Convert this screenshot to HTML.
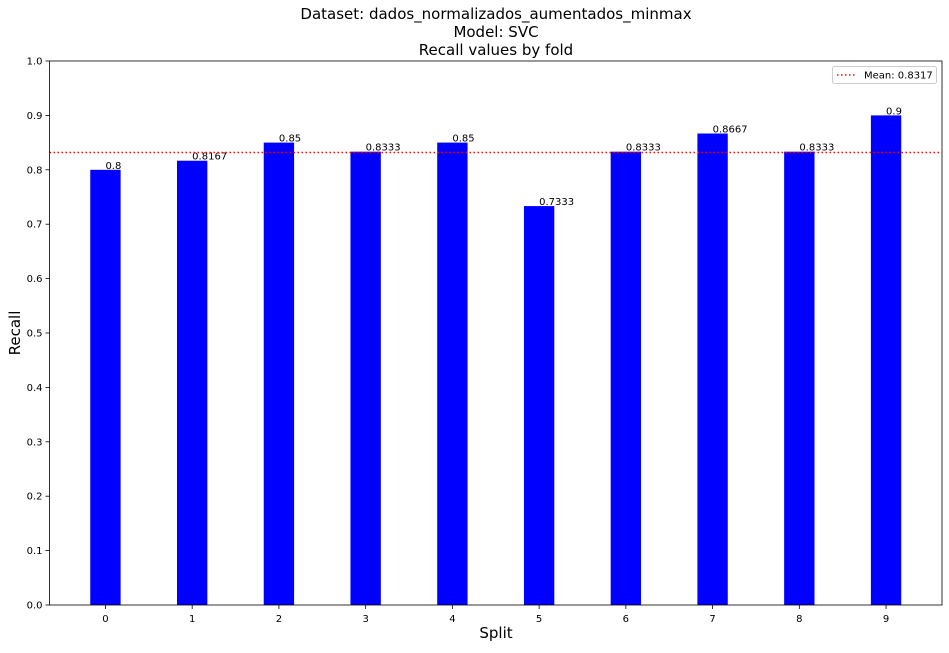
<!DOCTYPE html>
<html><head><meta charset="utf-8"><style>
body{margin:0;background:#fff;font-family:"Liberation Sans","DejaVu Sans",sans-serif;}
svg text{font-family:"DejaVu Sans","Liberation Sans",sans-serif;}
</style></head><body>
<svg id="chart" width="949" height="648" xmlns="http://www.w3.org/2000/svg">
<text x="496" y="19" font-size="15" text-anchor="middle">Dataset: dados_normalizados_aumentados_minmax</text>
<text x="496" y="37" font-size="15" text-anchor="middle">Model: SVC</text>
<text x="496" y="55" font-size="15" text-anchor="middle">Recall values by fold</text>
<text x="496" y="638" font-size="15" text-anchor="middle">Split</text>
<text transform="translate(20,333) rotate(-90)" font-size="15" text-anchor="middle">Recall</text>
<g id="plot"></g>
</svg>
<script>
const categories=[0,1,2,3,4,5,6,7,8,9];
const values=[0.8,0.8167,0.85,0.8333,0.85,0.7333,0.8333,0.8667,0.8333,0.9];
const labels=["0.8","0.8167","0.85","0.8333","0.85","0.7333","0.8333","0.8667","0.8333","0.9"];
const yTicks=[0,0.1,0.2,0.3,0.4,0.5,0.6,0.7,0.8,0.9,1.0];
const meanValue=0.8317;
const L=49.5,R=942,T=61,B=605;
const xMin=-0.645,xMax=9.645;
const X=v=>L+(v-xMin)/(xMax-xMin)*(R-L);
const Y=v=>B-v*(B-T);
const NS="http://www.w3.org/2000/svg";
const g=document.getElementById('plot');
function mk(t,a){const e=document.createElementNS(NS,t);for(const k in a)e.setAttribute(k,a[k]);g.appendChild(e);return e;}
const bw=(X(0.35)-X(0));
categories.forEach((c,i)=>{
 const r=mk('rect',{x:X(c)-bw/2,y:Y(values[i]),width:bw,height:B-Y(values[i]),fill:'#0000ff'});
 
 
 const t=mk('text',{x:X(c),y:Y(values[i])-1,'font-size':10});
 t.textContent=labels[i];
 
 
 mk('line',{x1:X(c),x2:X(c),y1:B,y2:B+4,stroke:'#000','stroke-width':0.8});
 const tl=mk('text',{x:X(c),y:B+17,'font-size':10,'text-anchor':'middle'});
 tl.textContent=c;
 
 
});
yTicks.forEach(v=>{
 mk('line',{x1:L-4,x2:L,y1:Y(v),y2:Y(v),stroke:'#000','stroke-width':0.8});
 const t=mk('text',{x:L-7,y:Y(v)+3.5,'font-size':10,'text-anchor':'end'});
 t.textContent=v.toFixed(1);
 
 
});
const ml=mk('line',{x1:L,x2:R,y1:Y(meanValue),y2:Y(meanValue),stroke:'#ff0000','stroke-width':1.5,'stroke-dasharray':'1.5,2.5'});


const fr=mk('rect',{x:L,y:T,width:R-L,height:B-T,fill:'none',stroke:'#000','stroke-width':0.8});


const lg=mk('rect',{x:832.5,y:66.5,width:104,height:17,rx:2,fill:'#fff',stroke:'#ccc','stroke-width':1});


mk('line',{x1:837,x2:857,y1:75,y2:75,stroke:'#ff0000','stroke-width':1.5,'stroke-dasharray':'1.5,2.5'});
const lt=mk('text',{x:864,y:78.5,'font-size':10});
lt.textContent='Mean: '+meanValue.toFixed(4);


</script>
</body></html>
